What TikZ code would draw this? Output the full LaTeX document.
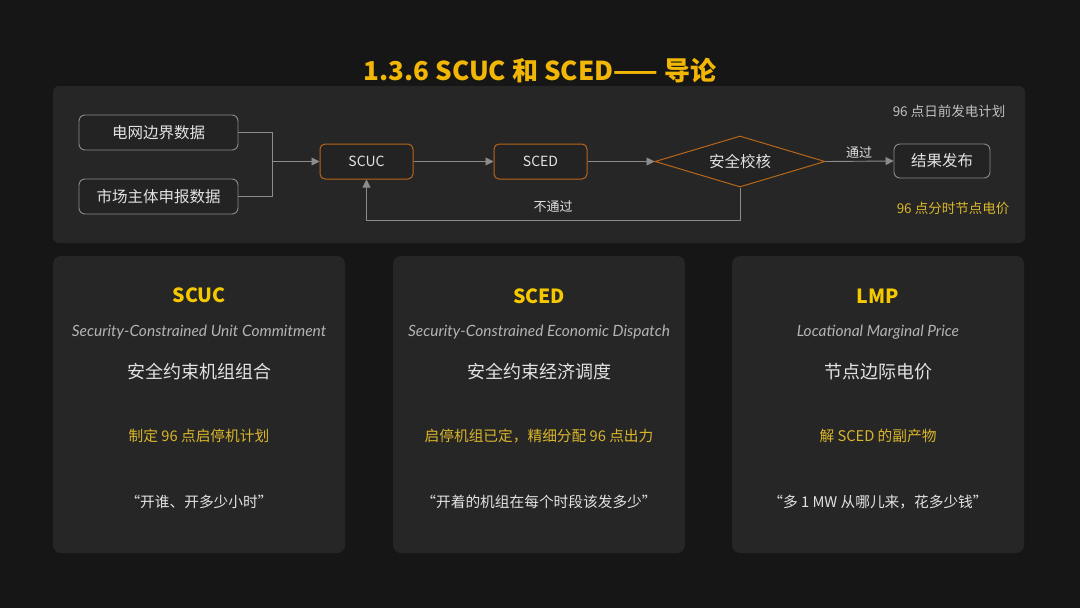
\documentclass[tikz,border=0pt]{standalone}
\usepackage{fontspec}
\setmainfont{Noto Sans CJK SC}
\newfontfamily\enfont{Lato}
\usetikzlibrary{arrows.meta,shapes.geometric}
\definecolor{bg}{HTML}{161616}
\definecolor{panel}{HTML}{262626}
\definecolor{boxfill}{HTML}{232323}
\definecolor{graybd}{HTML}{8A8A8A}
\definecolor{orangebd}{HTML}{B8661A}
\definecolor{linec}{HTML}{8C8C8C}
\definecolor{titley}{HTML}{F2B705}
\definecolor{cardy}{HTML}{F5C800}
\definecolor{softy}{HTML}{D9B62A}
\definecolor{txt}{HTML}{E2E2E2}
\definecolor{subtxt}{HTML}{B4B4B4}
\tikzset{
  panelbox/.style={fill=panel, draw=none, rounded corners=6pt},
  cardbox/.style={fill=panel, draw=none, rounded corners=8pt},
  graybox/.style={draw=graybd, line width=0.9pt, fill=boxfill, rounded corners=6pt, minimum width=159pt, minimum height=35pt, text=txt, font=\fontsize{15.5}{18}\selectfont, inner sep=0pt},
  orangebox/.style={draw=orangebd, line width=1pt, fill=boxfill, rounded corners=5pt, minimum width=93pt, minimum height=35pt, text=txt, font=\fontsize{14}{16}\selectfont, inner sep=0pt},
  resultbox/.style={draw=graybd, line width=0.9pt, fill=boxfill, rounded corners=6pt, minimum width=96pt, minimum height=34pt, text=txt, font=\fontsize{15.5}{18}\selectfont, inner sep=0pt},
  decision/.style={diamond, draw=orangebd, line width=1pt, fill=boxfill, minimum width=170pt, minimum height=51pt, inner sep=0pt, shape aspect=3.3, text=txt, font=\fontsize{15.5}{18}\selectfont},
  conn/.style={draw=linec, line width=0.9pt},
  arr/.style={conn, -{Triangle[length=8pt,width=8pt]}, color=linec},
  lbl/.style={text=txt, font=\fontsize{13}{15}\selectfont, inner sep=0pt},
  note/.style={text=subtxt!80!white, font=\fontsize{13.5}{16}\selectfont, inner sep=0pt},
  noteY/.style={text=softy, font=\fontsize{13.5}{16}\selectfont, inner sep=0pt},
  ctitle/.style={text=cardy, font=\bfseries\fontsize{19.5}{22}\selectfont, inner sep=0pt},
  cen/.style={text=subtxt, font=\enfont\itshape\fontsize{15.5}{18}\selectfont, inner sep=0pt},
  ccn/.style={text=txt, font=\fontsize{18}{21}\selectfont, inner sep=0pt},
  cy/.style={text=softy, font=\fontsize{14.7}{17}\selectfont, inner sep=0pt},
  cq/.style={text=txt, font=\fontsize{14.7}{17}\selectfont, inner sep=0pt},
}
\begin{document}
\begin{tikzpicture}[x=1pt,y=-1pt]
\fill[bg] (0,0) rectangle (1080,608);
\useasboundingbox (0,0) rectangle (1080,608);
% title
\node[text=titley, font=\bfseries\fontsize{26}{30}\selectfont, inner sep=0pt] (title) at (540,71) {1.3.6 SCUC 和 SCED—— 导论};
% top panel
\path[panelbox] (53,86) rectangle (1025,243);
\node[graybox] (b1) at (158.5,132.5) {电网边界数据};
\node[graybox] (b2) at (158.5,196.5) {市场主体申报数据};
\node[orangebox] (scuc) at (366.5,161.5) {SCUC};
\node[orangebox] (sced) at (540.5,161.5) {SCED};
\node[decision] (chk) at (740,161.5) {安全校核};
\node[resultbox] (res) at (942,161) {结果发布};
\coordinate (m) at (272,161.5);
\draw[conn] (b1.east) -| (m);
\draw[conn] (b2.east) -| (m);
\draw[arr] (m) -- (scuc.west);
\draw[arr] (scuc.east) -- (sced.west);
\draw[arr] (sced.east) -- (chk.west);
\draw[arr] (chk.east) -- (res.west);
\node[lbl] (pass) at (859,153) {通过};
\draw[arr] (chk.south) -- ++(0,33) -| (scuc.south);
\node[lbl] (fail) at (553,207) {不通过};
\node[note, text=txt!85!black] (plan) at (949,111) {96 点日前发电计划};
\node[noteY] (price) at (953,208) {96 点分时节点电价};
% cards
\path[cardbox] (53,256) rectangle (345,553);
\path[cardbox] (393,256) rectangle (685,553);
\path[cardbox] (732,256) rectangle (1024,553);
% card 1
\node[ctitle] (t1) at (199,295) {SCUC};
\node[cen] (e1) at (199,332) {Security-Constrained Unit Commitment};
\node[ccn] (c1) at (199,372) {安全约束机组组合};
\node[cy] (y1) at (199,436) {制定 96 点启停机计划};
\node[cq] (q1) at (199,502) {“开谁、开多少小时”};
% card 2
\node[ctitle] (t2) at (539,296) {SCED};
\node[cen] (e2) at (539,332) {Security-Constrained Economic Dispatch};
\node[ccn] (c2) at (539,372) {安全约束经济调度};
\node[cy] (y2) at (539,436) {启停机组已定，精细分配 96 点出力};
\node[cq] (q2) at (539,502) {“开着的机组在每个时段该发多少”};
% card 3
\node[ctitle] (t3) at (878,296) {LMP};
\node[cen] (e3) at (878,332) {Locational Marginal Price};
\node[ccn] (c3) at (878,372) {节点边际电价};
\node[cy] (y3) at (878,436) {解 SCED 的副产物};
\node[cq] (q3) at (878,502) {“多 1 MW 从哪儿来，花多少钱”};
\end{tikzpicture}
\end{document}
